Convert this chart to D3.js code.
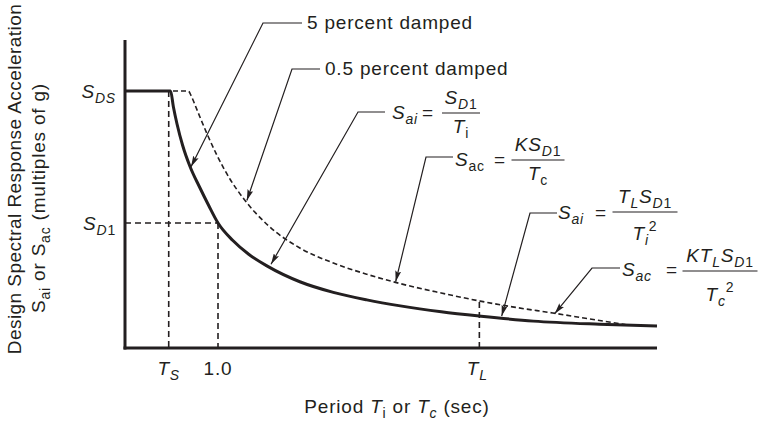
<!DOCTYPE html>
<html>
<head>
<meta charset="utf-8">
<script src="https://cdn.jsdelivr.net/npm/d3@7"></script>
<style>
  body { margin: 0; background: #fff; }
  text { font-family: "Liberation Sans", Arial, sans-serif; fill: #231f20; letter-spacing: 0.8px; }
</style>
</head>
<body>
<div id="chart"></div>
<script>
// levels, as fractions of S_D1, and periods in seconds
var SDS = 2.056, SD1 = 1.0;
var TS = 0.47, T1 = 1.0, TL = 3.81;

// 5 percent damped spectrum (solid)
var period5 = [0, 0.49, 0.52, 0.56, 0.62, 0.70, 0.80, 0.90, 1.0, 1.16, 1.33, 1.53, 1.88, 2.24, 2.6, 2.96, 3.4, 3.82, 4.39, 5.1, 5.72];
var accel5  = [2.056, 2.056, 1.93, 1.79, 1.62, 1.45, 1.29, 1.14, 1.0, 0.86, 0.75, 0.655, 0.53, 0.445, 0.385, 0.337, 0.29, 0.255, 0.215, 0.19, 0.176];

// 0.5 percent damped spectrum (dashed)
var period05 = [0, 0.68, 0.71, 0.75, 0.81, 0.89, 0.99, 1.13, 1.27, 1.54, 1.88, 2.24, 2.6, 2.96, 3.4, 3.82, 4.2, 4.6, 5.0, 5.38];
var accel05  = [2.056, 2.056, 2.02, 1.95, 1.84, 1.70, 1.54, 1.35, 1.20, 0.98, 0.80, 0.68, 0.59, 0.515, 0.44, 0.375, 0.325, 0.28, 0.232, 0.188];

// arrow tips of the leaders, [period, accel]
var tipPeriods = [0.71, 1.31, 1.57, 2.91, 4.05, 4.62];
var tipAccels  = [1.45, 1.18, 0.67, 0.53, 0.255, 0.275];

var width = 759, height = 421;
var svg = d3.select("#chart").append("svg").attr("width", width).attr("height", height);

var x = d3.scaleLinear().domain([0, 5.72]).range([125, 657]);
var y = d3.scaleLinear().domain([0, 2.464]).range([348, 40]);

svg.append("defs").append("marker")
  .attr("id", "arr").attr("viewBox", "0 0 11 6").attr("refX", 11).attr("refY", 3)
  .attr("markerWidth", 11).attr("markerHeight", 6).attr("markerUnits", "userSpaceOnUse")
  .attr("orient", "auto")
  .append("path").attr("d", "M0,0 L11,3 L0,6 L2,3 Z").attr("fill", "#231f20");

// text with italic parts and sub/superscripts
function rich(x0, y0, parts, size, anchor) {
  var t = svg.append("text").attr("x", x0).attr("y", y0)
    .attr("text-anchor", anchor || "start").style("font-size", size + "px");
  var cur = 0;
  parts.forEach(function (p) {
    var off = p[2] === "sub" ? 5 : p[2] === "sup" ? -9 : 0;
    t.append("tspan").attr("dy", off - cur)
      .style("font-style", p[1] ? "italic" : "normal")
      .style("font-size", p[2] ? Math.round(size * 0.72) + "px" : null)
      .text(p[0]);
    cur = off;
  });
  return t;
}

// dashed reference lines
var ref = svg.append("g").attr("stroke", "#231f20").attr("stroke-width", 1.6)
  .attr("stroke-dasharray", "6,4").attr("fill", "none");
ref.append("line").attr("x1", x(TS)).attr("x2", x(TS)).attr("y1", y(SDS)).attr("y2", y(0));
ref.append("line").attr("x1", x(T1)).attr("x2", x(T1)).attr("y1", y(SD1)).attr("y2", y(0));
ref.append("line").attr("x1", x(0)).attr("x2", x(T1)).attr("y1", y(SD1)).attr("y2", y(SD1));
ref.append("line").attr("x1", x(TL)).attr("x2", x(TL)).attr("y1", y(0.368)).attr("y2", y(0));

var line = d3.line().x(function (d) { return x(d[0]); }).y(function (d) { return y(d[1]); })
  .curve(d3.curveMonotoneX);

svg.append("path").datum(d3.zip(period05, accel05)).attr("d", line)
  .attr("fill", "none").attr("stroke", "#231f20").attr("stroke-width", 1.6)
  .attr("stroke-dasharray", "5,3");

svg.append("path").datum(d3.zip(period5, accel5)).attr("d", line)
  .attr("fill", "none").attr("stroke", "#231f20").attr("stroke-width", 3);

// axes (plain lines, no numeric ticks)
svg.append("line").attr("x1", x(0)).attr("x2", x(0)).attr("y1", y(2.464)).attr("y2", y(0) + 1.5)
  .attr("stroke", "#231f20").attr("stroke-width", 3);
svg.append("line").attr("x1", x(0) - 1.5).attr("x2", x(5.72)).attr("y1", y(0)).attr("y2", y(0))
  .attr("stroke", "#231f20").attr("stroke-width", 3);

// axis labels
rich(116, y(SDS) + 7, [["S", true], ["DS", true, "sub"]], 19, "end");
rich(116, y(SD1) + 7, [["S", true], ["D", true, "sub"], ["1", false, "sub"]], 19, "end");
rich(x(TS), 375, [["T", true], ["S", true, "sub"]], 19, "middle");
rich(x(T1), 375, [["1.0", false]], 19, "middle");
rich(x(TL) - 2, 375, [["T", true], ["L", true, "sub"]], 19, "middle");

rich(397, 413, [["Period ", false], ["T", true], ["i", false, "sub"], [" or ", false], ["T", true], ["c", true, "sub"], [" (sec)", false]], 19, "middle");

svg.append("text").attr("transform", "translate(21,179) rotate(-90)")
  .attr("text-anchor", "middle").style("font-size", "19px").style("letter-spacing", "0.45px")
  .text("Design Spectral Response Acceleration");
rich(0, 0, [["S", false], ["ai", false, "sub"], [" or ", false], ["S", false], ["ac", false, "sub"], [" (multiples of g)", false]], 19, "middle")
  .attr("transform", "translate(45,198) rotate(-90)");

// leaders: elbow points and arrows to the curves
var elbows = [[263, 23, 302], [292, 69, 320], [358, 112, 385], [426, 157, 453], [530, 213, 557], [592, 268, 620]];
elbows.forEach(function (e, i) {
  svg.append("path")
    .attr("d", "M" + e[2] + "," + e[1] + "L" + e[0] + "," + e[1] + "L" + x(tipPeriods[i]) + "," + y(tipAccels[i]))
    .attr("fill", "none").attr("stroke", "#231f20").attr("stroke-width", 1.2)
    .attr("marker-end", "url(#arr)");
});

rich(307, 29, [["5 percent damped", false]], 19);
rich(325, 75, [["0.5 percent damped", false]], 19);

// formulas
function frac(cx, bar, w, num, den, denShift) {
  svg.append("line").attr("x1", cx - w / 2).attr("x2", cx + w / 2).attr("y1", bar).attr("y2", bar)
    .attr("stroke", "#231f20").attr("stroke-width", 1.2);
  rich(cx, bar - 9, num, 19, "middle");
  rich(cx, bar + (denShift || 20), den, 19, "middle");
}

rich(392, 119, [["S", true], ["ai", true, "sub"]], 19);
rich(428, 119, [["=", false]], 19, "middle");
frac(461, 113, 38, [["S", true], ["D", true, "sub"], ["1", false, "sub"]], [["T", true], ["i", false, "sub"]]);

rich(455, 166, [["S", true], ["ac", false, "sub"]], 19);
rich(500, 166, [["=", false]], 19, "middle");
frac(538, 160, 53, [["K", true], ["S", true], ["D", true, "sub"], ["1", false, "sub"]], [["T", true], ["c", false, "sub"]]);

rich(558, 219, [["S", true], ["ai", true, "sub"]], 19);
rich(601, 219, [["=", false]], 19, "middle");
frac(645, 212, 65, [["T", true], ["L", true, "sub"], ["S", true], ["D", true, "sub"], ["1", false, "sub"]],
  [["T", true], ["i", true, "sub"], ["2", false, "sup"]], 28);

rich(622, 276, [["S", true], ["ac", true, "sub"]], 19);
rich(672, 276, [["=", false]], 19, "middle");
frac(720, 271, 75, [["K", true], ["T", true], ["L", true, "sub"], ["S", true], ["D", true, "sub"], ["1", false, "sub"]],
  [["T", true], ["c", true, "sub"], ["2", false, "sup"]], 30);
</script>
</body>
</html>
